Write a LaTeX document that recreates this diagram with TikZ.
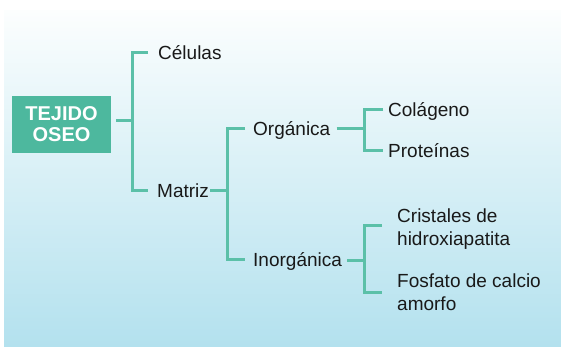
\documentclass[tikz,border=0pt]{standalone}
\usepackage{fontspec}
\setmainfont{Liberation Sans}
\definecolor{boxcol}{HTML}{4DB89E}
\definecolor{linecol}{HTML}{5BC0A8}
\definecolor{bgbot}{HTML}{B3E1EE}
\definecolor{bgtop}{HTML}{FCFEFE}
\tikzset{
  conn/.style={draw=linecol, line width=3pt},
  lbl/.style={inner sep=0pt, anchor=base west, font=\fontsize{19}{23}\selectfont, text=black!90},
  mlbl/.style={inner sep=0pt, anchor=west, align=left, font=\fontsize{19}{23}\selectfont, text=black!90},
  rootbox/.style={fill=boxcol, inner sep=0pt, minimum width=99pt, minimum height=57pt, align=center, text=white, font=\fontsize{20}{21}\selectfont\bfseries}
}
\begin{document}
\begin{tikzpicture}[x=1pt, y=-1pt]
\useasboundingbox (0,0) rectangle (561,346);
\shade[top color=bgtop, bottom color=bgbot] (4,10) rectangle (561,346);

\node[rootbox] (tejido) at (61.5,124.5) {TEJIDO\\OSEO};
\node[lbl] (celulas) at (158,59) {Células};
\node[lbl] (matriz) at (157,197) {Matriz};
\node[lbl] (organica) at (253,135) {Orgánica};
\node[lbl] (inorganica) at (253,266) {Inorgánica};
\node[lbl] (colageno) at (388,116) {Colágeno};
\node[lbl] (proteinas) at (388,157) {Proteínas};
\node[mlbl] (cristales) at (397,229) {Cristales de\\hidroxiapatita};
\node[mlbl] (fosfato) at (397,292) {Fosfato de calcio\\amorfo};

\coordinate (j1) at (132,120);
\coordinate (j2) at (227,190);
\coordinate (j3) at (364,128);
\coordinate (j4) at (364,260);

\draw[conn, shorten <=5pt] (tejido.east |- j1) -- (j1);
\draw[conn] ([shift={(-10pt,7pt)}]celulas.base west) -| (j1) |- ([shift={(-9pt,7pt)}]matriz.base west);

\draw[conn] ([shift={(1pt,7pt)}]matriz.base east) -| (j2);
\draw[conn] ([shift={(-8pt,7pt)}]organica.base west) -| (j2) |- ([shift={(-8pt,7pt)}]inorganica.base west);

\draw[conn] ([shift={(6pt,7pt)}]organica.base east) -| (j3);
\draw[conn] ([shift={(-5pt,7pt)}]colageno.base west) -| (j3) |- ([shift={(-5pt,7pt)}]proteinas.base west);

\draw[conn] ([shift={(5pt,6pt)}]inorganica.base east) -| (j4);
\draw[conn] ([shift={(-15pt,4pt)}]cristales.west) -| (j4) |- ([shift={(-15pt,0pt)}]fosfato.west);
\end{tikzpicture}
\end{document}
